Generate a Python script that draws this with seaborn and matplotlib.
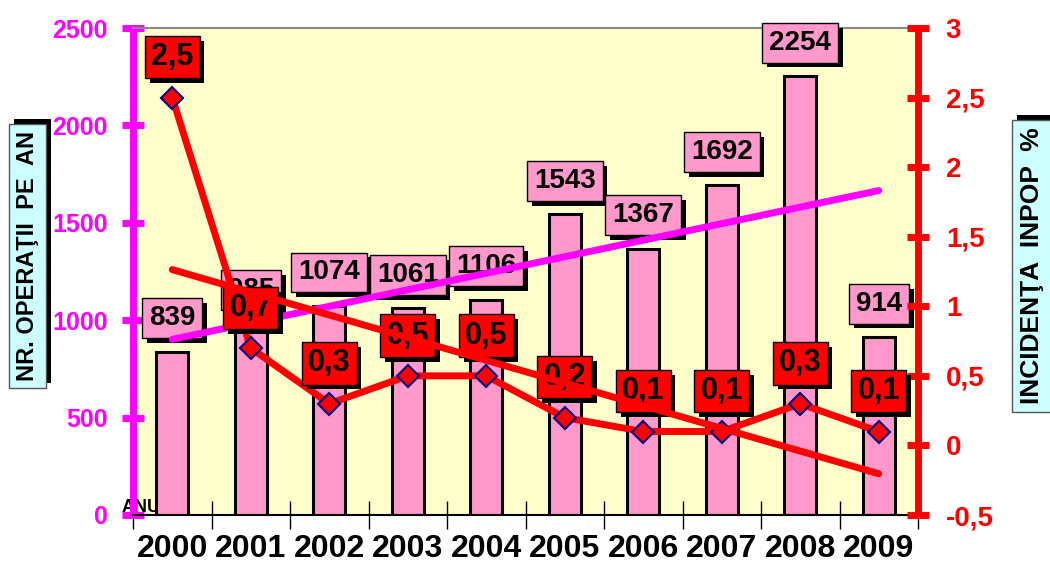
import numpy as np
import pandas as pd
import matplotlib
matplotlib.use("Agg")
import matplotlib.pyplot as plt
import matplotlib.patheffects as pe
import seaborn as sns

# ─── data ────────────────────────────────────────────────────────────────────
years      = ["2000", "2001", "2002", "2003", "2004",
              "2005", "2006", "2007", "2008", "2009"]
operatii   = [839, 985, 1074, 1061, 1106, 1543, 1367, 1692, 2254, 914]
incidenta  = [2.5, 0.7, 0.3, 0.5, 0.5, 0.2, 0.1, 0.1, 0.3, 0.1]
left_ticks  = [0, 500, 1000, 1500, 2000, 2500]
right_ticks = [-0.5, 0, 0.5, 1, 1.5, 2, 2.5, 3]

PINK    = "#FF99CC"
MAGENTA = "#FF00FF"
RED     = "#FF0000"
YELLOW  = "#FFFFCC"
CYAN    = "#CCFFFF"
NAVY    = "#000080"

sns.set_theme(style="white")
plt.rcParams["font.family"] = ["Liberation Sans", "DejaVu Sans"]
plt.rcParams["font.weight"] = "bold"

df = pd.DataFrame({"an": years, "operatii": operatii, "incidenta": incidenta})
df["pos"] = np.arange(len(df))


def _box_label(ax, x, y, text, fc, dy, z, size, pad):
    t = ax.annotate(text, (x, y), xytext=(0, dy), textcoords="offset points",
                    ha="center", va="center", fontsize=size, fontweight="bold",
                    color="black", zorder=z,
                    bbox=dict(boxstyle=f"square,pad={pad}", fc=fc, ec="black", lw=1))
    t.get_bbox_patch().set_path_effects([
        pe.SimplePatchShadow(offset=(3.5, -3.5), shadow_rgbFace="black", alpha=1),
        pe.Normal()])


def _axis_title(fig, x, y, text, size):
    t = fig.text(x, y, text, rotation=90, ha="center", va="center",
                 fontsize=size, fontweight="bold", color="black",
                 bbox=dict(boxstyle="square,pad=0.3", fc=CYAN, ec="#555555", lw=1))
    t.get_bbox_patch().set_path_effects([
        pe.SimplePatchShadow(offset=(3.5, 3.5), shadow_rgbFace="black", alpha=1),
        pe.Normal()])


fig = plt.figure(figsize=(10.5, 5.66), dpi=100)
ax = fig.add_axes([133 / 1050, 51 / 566, 785 / 1050, 487 / 566])
ax.set_facecolor(YELLOW)

# ─── bars + trend (left axis) ────────────────────────────────────────────────
sns.barplot(data=df, x="an", y="operatii", ax=ax, color=PINK, saturation=1,
            width=0.41, edgecolor="black", linewidth=2.2, zorder=2)
for i, v in zip(df["pos"], df["operatii"]):
    _box_label(ax, i, v, str(v), PINK, 24, 3, 20, 0.25)

sns.regplot(data=df, x="pos", y="operatii", ax=ax, scatter=False, ci=None,
            truncate=True,
            line_kws=dict(color=MAGENTA, lw=5, solid_capstyle="round", zorder=4))

ax.text(-0.014, -0.002, "ANUL", transform=ax.transAxes, ha="left", va="bottom",
        fontsize=13, fontweight="bold", color="black", zorder=1, clip_on=False)

ax.set_xlim(-0.5, len(years) - 0.5)
ax.set_ylim(0, 2500)
ax.set_yticks(left_ticks)
ax.set_xticks(df["pos"])
ax.set_xticklabels(years)
ax.set_xticks(np.arange(len(years) + 1) - 0.5, minor=True)
ax.set_xlabel("")
ax.set_ylabel("")
ax.tick_params(axis="x", which="major", length=0, labelsize=23, pad=14,
               labelcolor="black")
ax.tick_params(axis="x", which="minor", direction="inout", length=20, width=1,
               color="black", bottom=True)
ax.tick_params(axis="y", direction="inout", length=16, width=5,
               color=MAGENTA, labelcolor=MAGENTA, labelsize=18, pad=10, left=True)
ax.spines["left"].set_color(MAGENTA)
ax.spines["left"].set_linewidth(5)
ax.spines["top"].set_color("#888888")
ax.spines["top"].set_linewidth(1.5)
ax.spines["bottom"].set_color("black")
ax.spines["bottom"].set_linewidth(1.5)
ax.spines["right"].set_visible(False)
ax.grid(False)

# ─── incidence line + trend (right axis) ─────────────────────────────────────
ax2 = ax.twinx()
for i, v in zip(df["pos"], df["incidenta"]):
    _box_label(ax2, i, v, f"{v:g}".replace(".", ","), RED, 29, 5, 22, 0.2)

sns.regplot(data=df, x="pos", y="incidenta", ax=ax2, scatter=False, ci=None,
            truncate=True,
            line_kws=dict(color=RED, lw=5, solid_capstyle="round", zorder=6))
sns.lineplot(data=df, x="pos", y="incidenta", ax=ax2, color=RED, lw=5,
             marker="D", markersize=11, markerfacecolor=RED,
             markeredgecolor=NAVY, markeredgewidth=1.5, zorder=4)

ax2.set_xlim(-0.5, len(years) - 0.5)
ax2.set_ylim(-0.5, 3)
ax2.set_yticks(right_ticks)
ax2.set_yticklabels([f"{t:g}".replace(".", ",") for t in right_ticks])
ax2.set_xlabel("")
ax2.set_ylabel("")
ax2.tick_params(axis="y", direction="inout", length=16, width=5, color=RED,
                labelcolor=RED, labelsize=20, pad=12, right=True)
ax2.spines["right"].set_color(RED)
ax2.spines["right"].set_linewidth(5)
for s in ["left", "top", "bottom"]:
    ax2.spines[s].set_visible(False)
ax2.grid(False)

# ─── axis titles in boxes ────────────────────────────────────────────────────
_axis_title(fig, 0.026, 0.548, "NR. OPERAŢII  PE  AN", 17)
_axis_title(fig, 0.983, 0.53, "INCIDENŢA  INPOP  %", 19)

fig.savefig("out.png", dpi=100)
